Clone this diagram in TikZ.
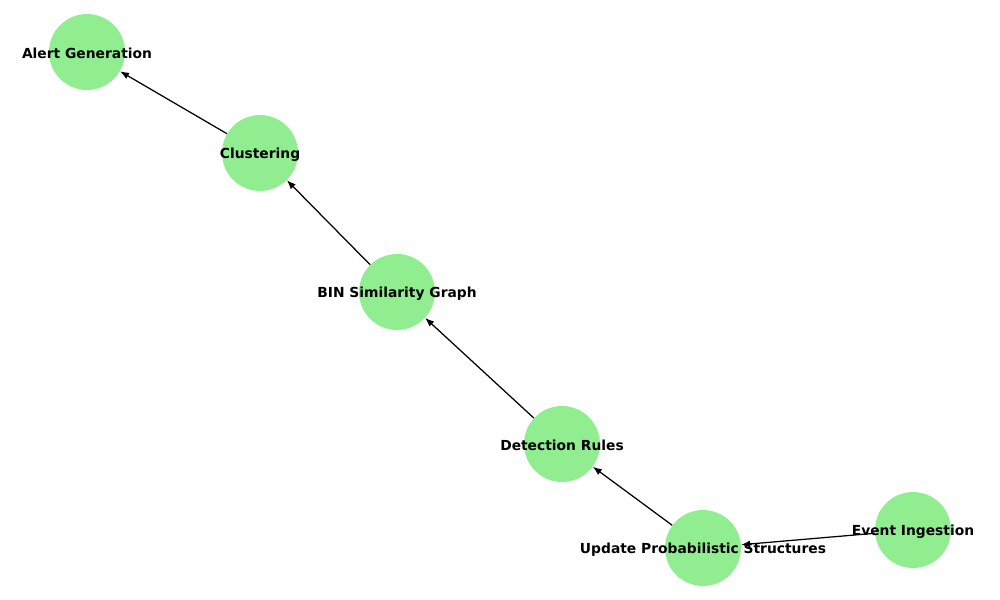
\documentclass[tikz,border=0pt]{standalone}
\usepackage{fontspec}
\setmainfont{DejaVu Sans}
\usetikzlibrary{arrows.meta}
\definecolor{lgreen}{HTML}{90EE90}
\begin{document}
\begin{tikzpicture}[x=0.72bp,y=-0.72bp,
  vert/.style={circle,fill=lgreen,draw=none,minimum size=54.7bp,inner sep=0pt},
  lbl/.style={font=\bfseries\fontsize{10}{12}\selectfont,inner sep=0pt,yshift=-1.1bp},
  edge/.style={draw=black,line width=0.9bp,-{Latex[length=6.5bp,width=5bp]}}]
\useasboundingbox (0,0) rectangle (1000,600);
\node[vert] (ag) at (87,52) {};
\node[vert] (cl) at (260,153) {};
\node[vert] (bin) at (397,292) {};
\node[vert] (dr) at (562,444) {};
\node[vert] (ups) at (703,548) {};
\node[vert] (ei) at (913,530) {};
\draw[edge] (ei) -- (ups);
\draw[edge] (ups) -- (dr);
\draw[edge] (dr) -- (bin);
\draw[edge] (bin) -- (cl);
\draw[edge] (cl) -- (ag);
\node[lbl] (tag) at (ag) {Alert Generation};
\node[lbl] (tcl) at (cl) {Clustering};
\node[lbl] (tbin) at (bin) {BIN Similarity Graph};
\node[lbl] (tdr) at (dr) {Detection Rules};
\node[lbl] (tups) at (ups) {Update Probabilistic Structures};
\node[lbl] (tei) at (ei) {Event Ingestion};
\end{tikzpicture}
\end{document}
